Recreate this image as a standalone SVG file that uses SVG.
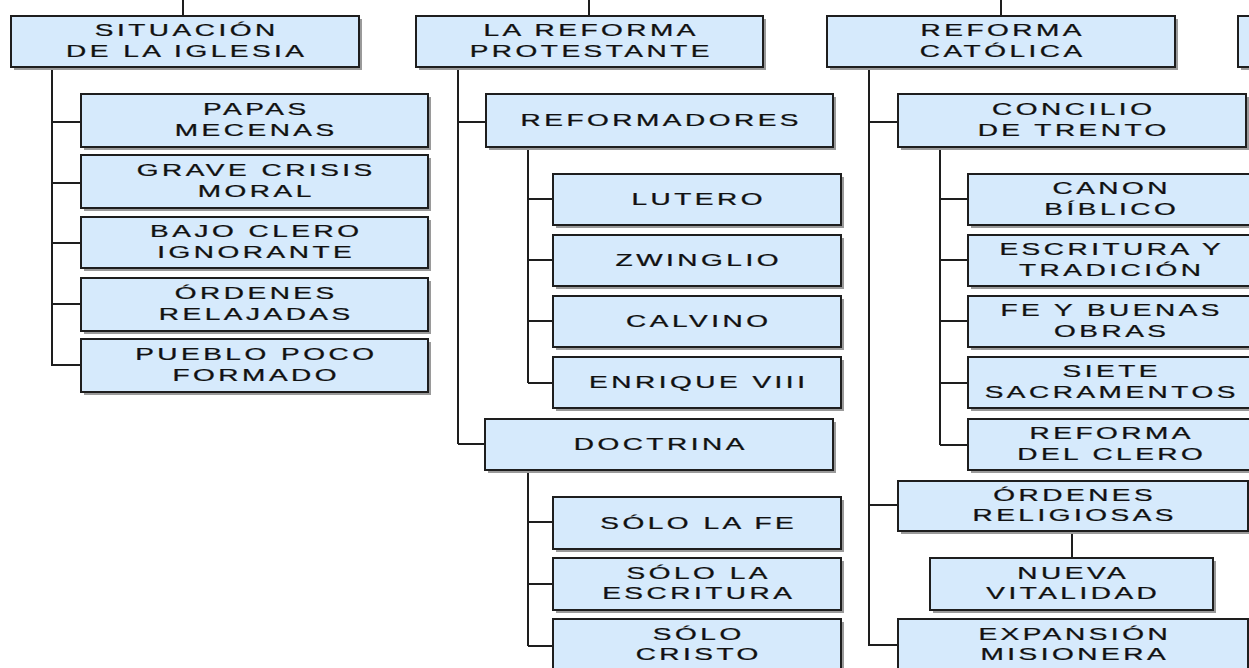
<svg xmlns="http://www.w3.org/2000/svg" width="1249" height="668" viewBox="0 0 1249 668">
<style>
.sh{fill:#9a9a9a}
.box{fill:#d6eafc;stroke:#1e1e1e;stroke-width:2}
.t{font-family:"Liberation Sans",Arial,sans-serif;font-size:16px;letter-spacing:2px;fill:#111;stroke:#111;stroke-width:0.25;text-anchor:middle}
.c{stroke:#1e1e1e;stroke-width:2;fill:none}
</style>
<rect width="1249" height="668" fill="#ffffff"/>
<g id="connectors" class="c">
<path d="M183 0V16M589 0V16M1001 0V16"/>
<path d="M52 67V366M52 122H81M52 183H81M52 243H81M52 304H81M52 365H81"/>
<path d="M458 67V444M458 122H486M458 444H485"/>
<path d="M528 147V383M528 199H553M528 260H553M528 321H553M528 383H553"/>
<path d="M528 470V646M528 522H553M528 584H553M528 646H553"/>
<path d="M869 67V646M869 122H898M869 505H898M869 645H898"/>
<path d="M940 147V445M940 199H968M940 260H968M940 321H968M940 383H968M940 445H968"/>
<path d="M1072 531V558"/>
</g>
<g id="n-situacion"><rect class="sh" x="14" y="19" width="348" height="51"/><rect class="box" x="11" y="16" width="348" height="51"/><text class="t" transform="translate(185,41.5) scale(1.75,1)"><tspan x="1" y="-5.5">SITUACIÓN</tspan><tspan x="1" y="15.5">DE LA IGLESIA</tspan></text></g>
<g id="n-papas"><rect class="sh" x="84" y="97" width="347" height="53"/><rect class="box" x="81" y="94" width="347" height="53"/><text class="t" transform="translate(254.5,120.5) scale(1.75,1)"><tspan x="1" y="-5.5">PAPAS</tspan><tspan x="1" y="15.5">MECENAS</tspan></text></g>
<g id="n-grave"><rect class="sh" x="84" y="158" width="347" height="53"/><rect class="box" x="81" y="155" width="347" height="53"/><text class="t" transform="translate(254.5,181.5) scale(1.75,1)"><tspan x="1" y="-5.5">GRAVE CRISIS</tspan><tspan x="1" y="15.5">MORAL</tspan></text></g>
<g id="n-bajo"><rect class="sh" x="84" y="220" width="347" height="51"/><rect class="box" x="81" y="217" width="347" height="51"/><text class="t" transform="translate(254.5,242.5) scale(1.75,1)"><tspan x="1" y="-5.5">BAJO CLERO</tspan><tspan x="1" y="15.5">IGNORANTE</tspan></text></g>
<g id="n-ordenes-rel"><rect class="sh" x="84" y="281" width="347" height="53"/><rect class="box" x="81" y="278" width="347" height="53"/><text class="t" transform="translate(254.5,304.5) scale(1.75,1)"><tspan x="1" y="-5.5">ÓRDENES</tspan><tspan x="1" y="15.5">RELAJADAS</tspan></text></g>
<g id="n-pueblo"><rect class="sh" x="84" y="342" width="347" height="53"/><rect class="box" x="81" y="339" width="347" height="53"/><text class="t" transform="translate(254.5,365.5) scale(1.75,1)"><tspan x="1" y="-5.5">PUEBLO POCO</tspan><tspan x="1" y="15.5">FORMADO</tspan></text></g>

<g id="n-protestante"><rect class="sh" x="419" y="19" width="347" height="51"/><rect class="box" x="416" y="16" width="347" height="51"/><text class="t" transform="translate(589.5,41.5) scale(1.75,1)"><tspan x="1" y="-5.5">LA REFORMA</tspan><tspan x="1" y="15.5">PROTESTANTE</tspan></text></g>
<g id="n-reformadores"><rect class="sh" x="489" y="97" width="347" height="53"/><rect class="box" x="486" y="94" width="347" height="53"/><text class="t" transform="translate(659.5,120.5) scale(1.75,1)"><tspan x="1" y="5.5">REFORMADORES</tspan></text></g>
<g id="n-lutero"><rect class="sh" x="556" y="177" width="288" height="51"/><rect class="box" x="553" y="174" width="288" height="51"/><text class="t" transform="translate(697,199.5) scale(1.75,1)"><tspan x="1" y="5.5">LUTERO</tspan></text></g>
<g id="n-zwinglio"><rect class="sh" x="556" y="238" width="288" height="51"/><rect class="box" x="553" y="235" width="288" height="51"/><text class="t" transform="translate(697,260.5) scale(1.75,1)"><tspan x="1" y="5.5">ZWINGLIO</tspan></text></g>
<g id="n-calvino"><rect class="sh" x="556" y="299" width="288" height="51"/><rect class="box" x="553" y="296" width="288" height="51"/><text class="t" transform="translate(697,321.5) scale(1.75,1)"><tspan x="1" y="5.5">CALVINO</tspan></text></g>
<g id="n-enrique"><rect class="sh" x="556" y="360" width="288" height="51"/><rect class="box" x="553" y="357" width="288" height="51"/><text class="t" transform="translate(697,382.5) scale(1.75,1)"><tspan x="1" y="5.5">ENRIQUE VIII</tspan></text></g>
<g id="n-doctrina"><rect class="sh" x="488" y="422" width="348" height="51"/><rect class="box" x="485" y="419" width="348" height="51"/><text class="t" transform="translate(659,444.5) scale(1.75,1)"><tspan x="1" y="5.5">DOCTRINA</tspan></text></g>
<g id="n-sola-fe"><rect class="sh" x="556" y="500" width="288" height="52"/><rect class="box" x="553" y="497" width="288" height="52"/><text class="t" transform="translate(697,523) scale(1.75,1)"><tspan x="1" y="5.5">SÓLO LA FE</tspan></text></g>
<g id="n-sola-escritura"><rect class="sh" x="556" y="561" width="288" height="52"/><rect class="box" x="553" y="558" width="288" height="52"/><text class="t" transform="translate(697,584) scale(1.75,1)"><tspan x="1" y="-5.5">SÓLO LA</tspan><tspan x="1" y="15.5">ESCRITURA</tspan></text></g>
<g id="n-solo-cristo"><rect class="sh" x="556" y="622" width="288" height="52"/><rect class="box" x="553" y="619" width="288" height="52"/><text class="t" transform="translate(697,645) scale(1.75,1)"><tspan x="1" y="-5.5">SÓLO</tspan><tspan x="1" y="15.5">CRISTO</tspan></text></g>

<g id="n-catolica"><rect class="sh" x="830" y="19" width="348" height="51"/><rect class="box" x="827" y="16" width="348" height="51"/><text class="t" transform="translate(1001,41.5) scale(1.75,1)"><tspan x="1" y="-5.5">REFORMA</tspan><tspan x="1" y="15.5">CATÓLICA</tspan></text></g>
<g id="n-concilio"><rect class="sh" x="901" y="97" width="348" height="53"/><rect class="box" x="898" y="94" width="348" height="53"/><text class="t" transform="translate(1072,120.5) scale(1.75,1)"><tspan x="1" y="-5.5">CONCILIO</tspan><tspan x="1" y="15.5">DE TRENTO</tspan></text></g>
<g id="n-canon"><rect class="sh" x="971" y="177" width="288" height="51"/><rect class="box" x="968" y="174" width="288" height="51"/><text class="t" transform="translate(1110,199.5) scale(1.75,1)"><tspan x="1" y="-5.5">CANON</tspan><tspan x="1" y="15.5">BÍBLICO</tspan></text></g>
<g id="n-escritura-tradicion"><rect class="sh" x="971" y="238" width="288" height="51"/><rect class="box" x="968" y="235" width="288" height="51"/><text class="t" transform="translate(1110,260.5) scale(1.75,1)"><tspan x="1" y="-5.5">ESCRITURA Y</tspan><tspan x="1" y="15.5">TRADICIÓN</tspan></text></g>
<g id="n-fe-obras"><rect class="sh" x="971" y="299" width="288" height="51"/><rect class="box" x="968" y="296" width="288" height="51"/><text class="t" transform="translate(1110,321.5) scale(1.75,1)"><tspan x="1" y="-5.5">FE Y BUENAS</tspan><tspan x="1" y="15.5">OBRAS</tspan></text></g>
<g id="n-sacramentos"><rect class="sh" x="971" y="360" width="288" height="51"/><rect class="box" x="968" y="357" width="288" height="51"/><text class="t" transform="translate(1110,382.5) scale(1.75,1)"><tspan x="1" y="-5.5">SIETE</tspan><tspan x="1" y="15.5">SACRAMENTOS</tspan></text></g>
<g id="n-reforma-clero"><rect class="sh" x="971" y="422" width="288" height="51"/><rect class="box" x="968" y="419" width="288" height="51"/><text class="t" transform="translate(1110,444.5) scale(1.75,1)"><tspan x="1" y="-5.5">REFORMA</tspan><tspan x="1" y="15.5">DEL CLERO</tspan></text></g>
<g id="n-ordenes-religiosas"><rect class="sh" x="901" y="484" width="350" height="50"/><rect class="box" x="898" y="481" width="350" height="50"/><text class="t" transform="translate(1073,506) scale(1.75,1)"><tspan x="1" y="-5.5">ÓRDENES</tspan><tspan x="1" y="15.5">RELIGIOSAS</tspan></text></g>
<g id="n-nueva-vitalidad"><rect class="sh" x="933" y="561" width="283" height="52"/><rect class="box" x="930" y="558" width="283" height="52"/><text class="t" transform="translate(1071.5,584) scale(1.75,1)"><tspan x="1" y="-5.5">NUEVA</tspan><tspan x="1" y="15.5">VITALIDAD</tspan></text></g>
<g id="n-expansion"><rect class="sh" x="901" y="622" width="350" height="55"/><rect class="box" x="898" y="619" width="350" height="55"/><text class="t" transform="translate(1073,645) scale(1.75,1)"><tspan x="1" y="-5.5">EXPANSIÓN</tspan><tspan x="1" y="15.5">MISIONERA</tspan></text></g>

<g id="n-partial"><rect class="sh" x="1241" y="19" width="40" height="51"/><rect class="box" x="1238" y="16" width="40" height="51"/></g>
</svg>
